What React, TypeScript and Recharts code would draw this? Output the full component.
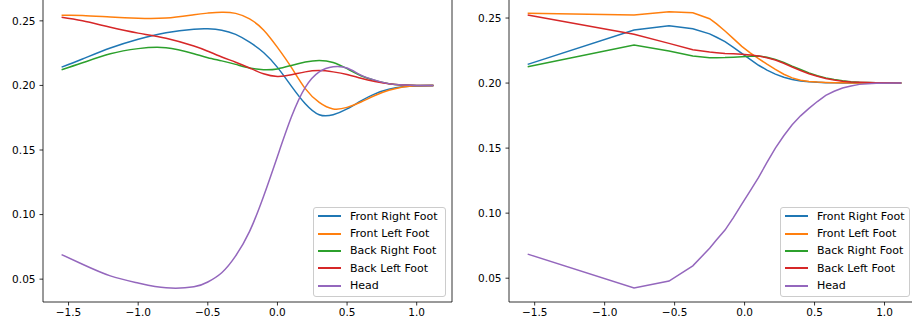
import { LineChart, Line, XAxis, YAxis, ReferenceLine, Legend } from 'recharts';

const seriesNames = ['Front Right Foot', 'Front Left Foot', 'Back Right Foot', 'Back Left Foot', 'Head'];
const COLORS = ['#1f77b4', '#ff7f0e', '#2ca02c', '#d62728', '#9467bd'];

// left panel: smooth curves
const xLeft = [-1.55, -1.4, -1.2, -1.0, -0.8, -0.6, -0.5, -0.4, -0.3, -0.2, -0.1, 0, 0.1, 0.2, 0.3, 0.4, 0.5, 0.6, 0.7, 0.8, 0.9, 1.0, 1.12];
const frontRightL = [0.2142, 0.2205, 0.2290, 0.2358, 0.2408, 0.2435, 0.2438, 0.2428, 0.2395, 0.2335, 0.2255, 0.2140, 0.1995, 0.1858, 0.1773, 0.1773, 0.1818, 0.1880, 0.1935, 0.1970, 0.1990, 0.1998, 0.2000];
const frontLeftL = [0.2543, 0.2542, 0.2530, 0.2520, 0.2522, 0.2548, 0.2560, 0.2567, 0.2558, 0.2515, 0.2430, 0.2295, 0.2140, 0.1975, 0.1868, 0.1818, 0.1830, 0.1872, 0.1922, 0.1962, 0.1988, 0.1998, 0.2000];
const backRightL = [0.2122, 0.2175, 0.2245, 0.2285, 0.2292, 0.2245, 0.2215, 0.2190, 0.2163, 0.2135, 0.2122, 0.2128, 0.2155, 0.2182, 0.2194, 0.2178, 0.2130, 0.2075, 0.2039, 0.2013, 0.2004, 0.2000, 0.2000];
const backLeftL = [0.2528, 0.2500, 0.2450, 0.2405, 0.2365, 0.2305, 0.2265, 0.2220, 0.2180, 0.2135, 0.2090, 0.2070, 0.2082, 0.2105, 0.2115, 0.2105, 0.2085, 0.2055, 0.2030, 0.2013, 0.2004, 0.2000, 0.2000];
const headL = [0.0690, 0.0615, 0.0525, 0.0470, 0.0433, 0.0441, 0.0478, 0.0550, 0.0680, 0.0870, 0.1140, 0.1450, 0.1755, 0.1985, 0.2105, 0.2145, 0.2135, 0.2080, 0.2041, 0.2014, 0.2004, 0.2000, 0.2000];

// right panel: piecewise linear
const xRight = [-1.55, -0.79, -0.54, -0.37, -0.25, -0.20, -0.14, -0.08, -0.02, 0.04, 0.10, 0.16, 0.22, 0.28, 0.34, 0.40, 0.46, 0.52, 0.58, 0.64, 0.70, 0.76, 0.82, 0.94, 1.12];
const frontRightR = [0.2144, 0.2408, 0.2441, 0.2418, 0.2378, 0.2352, 0.2318, 0.2275, 0.2228, 0.2182, 0.2137, 0.2100, 0.2069, 0.2045, 0.2027, 0.2016, 0.2010, 0.2006, 0.2003, 0.2002, 0.2001, 0.2000, 0.2000, 0.2000, 0.2000];
const frontLeftR = [0.2536, 0.2523, 0.2548, 0.2540, 0.2495, 0.2455, 0.2400, 0.2342, 0.2282, 0.2232, 0.2188, 0.2145, 0.2105, 0.2068, 0.2040, 0.2022, 0.2013, 0.2008, 0.2005, 0.2003, 0.2002, 0.2001, 0.2001, 0.2000, 0.2000];
const backRightR = [0.2126, 0.2292, 0.2246, 0.2208, 0.2195, 0.2195, 0.2196, 0.2199, 0.2202, 0.2206, 0.2208, 0.2198, 0.2182, 0.2158, 0.2130, 0.2104, 0.2078, 0.2057, 0.2040, 0.2027, 0.2017, 0.2011, 0.2007, 0.2002, 0.2000];
const backLeftR = [0.2523, 0.2375, 0.2305, 0.2256, 0.2238, 0.2233, 0.2228, 0.2225, 0.2221, 0.2216, 0.2208, 0.2195, 0.2177, 0.2152, 0.2124, 0.2097, 0.2072, 0.2052, 0.2035, 0.2023, 0.2014, 0.2009, 0.2006, 0.2002, 0.2000];
const headR = [0.0685, 0.0425, 0.0478, 0.0595, 0.0730, 0.0795, 0.0870, 0.0965, 0.1070, 0.1172, 0.1275, 0.1390, 0.1500, 0.1595, 0.1680, 0.1748, 0.1805, 0.1858, 0.1905, 0.1937, 0.1962, 0.1978, 0.1990, 0.1998, 0.2000];

const xTicks = [-1.5, -1, -0.5, 0, 0.5, 1];
const yTicks = [0.05, 0.1, 0.15, 0.2, 0.25];

const FONT = 'DejaVu Sans';

function toRows(xs: number[], cols: number[][]) {
  return xs.map((x, i) => {
    const row: Record<string, number> = { x };
    cols.forEach((c, j) => (row['s' + j] = c[i]));
    return row;
  });
}

const leftData = toRows(xLeft, [frontRightL, frontLeftL, backRightL, backLeftL, headL]);
const rightData = toRows(xRight, [frontRightR, frontLeftR, backRightR, backLeftR, headR]);

const fmtX = (v: number) => (v < 0 ? '\u2212' : '') + Math.abs(v).toFixed(1);
const fmtY = (v: number) => v.toFixed(2);

// keep the original series order (recharts sorts the payload by name)
function LegendBox() {
  return (
    <div
      style={{
        border: '1px solid #cccccc',
        borderRadius: 3,
        background: 'rgba(255,255,255,0.8)',
        padding: '0 0 1.5px 0',
        fontFamily: FONT,
        fontSize: 11,
        color: '#000',
        boxSizing: 'border-box',
      }}
    >
      {seriesNames.map((name, i) => (
        <div key={name} style={{ display: 'flex', alignItems: 'center', height: 17.3, whiteSpace: 'nowrap' }}>
          <span
            style={{
              display: 'inline-block',
              width: 23,
              height: 2,
              background: COLORS[i],
              marginLeft: 4,
              marginRight: 9,
            }}
          />
          <span>{name}</span>
        </div>
      ))}
    </div>
  );
}

function Panel({ data, yDomain, curve, width, marginRight, legendLeft, legendWidth }: any) {
  const xDomain = [-1.6835, 1.2535];
  return (
    <LineChart width={width} height={344} data={data} margin={{ top: 10, right: marginRight, bottom: 0, left: 0 }}>
      <XAxis
        type="number"
        dataKey="x"
        domain={xDomain}
        allowDataOverflow
        ticks={xTicks}
        interval={0}
        tickFormatter={fmtX}
        height={30}
        tickSize={3.5}
        tickMargin={3.5}
        axisLine={{ stroke: '#000', strokeWidth: 0.8 }}
        tickLine={{ stroke: '#000', strokeWidth: 0.8 }}
        tick={{ fill: '#000', fontSize: 10.5, fontFamily: FONT }}
      />
      <YAxis
        type="number"
        domain={yDomain}
        allowDataOverflow
        ticks={yTicks}
        interval={0}
        tickFormatter={fmtY}
        width={43}
        tickSize={3.5}
        tickMargin={4}
        axisLine={{ stroke: '#000', strokeWidth: 0.8 }}
        tickLine={{ stroke: '#000', strokeWidth: 0.8 }}
        tick={{ fill: '#000', fontSize: 10.5, fontFamily: FONT }}
      />
      <ReferenceLine x={xDomain[1]} stroke="#000" strokeWidth={0.8} />
      {seriesNames.map((name, i) => (
        <Line
          key={name}
          name={name}
          dataKey={'s' + i}
          type={curve}
          stroke={COLORS[i]}
          strokeWidth={1.5}
          dot={false}
          isAnimationActive={false}
        />
      ))}
      <Legend
        layout="vertical"
        align="center"
        verticalAlign="middle"
        content={<LegendBox />}
        wrapperStyle={{ left: legendLeft, top: 218.7, width: legendWidth }}
      />
    </LineChart>
  );
}

export default function App() {
  return (
    <div style={{ position: 'relative', width: 912, height: 331, overflow: 'hidden', background: '#fff' }}>
      <style>{'body{margin:0}'}</style>
      <div style={{ position: 'absolute', left: 0, top: -12 }}>
        <Panel
          data={leftData}
          yDomain={[0.0323, 0.2677]}
          curve="natural"
          width={460}
          marginRight={8}
          legendLeft={313}
          legendWidth={133}
        />
      </div>
      <div style={{ position: 'absolute', left: 466, top: -12 }}>
        <Panel
          data={rightData}
          yDomain={[0.0317, 0.2654]}
          curve="linear"
          width={454}
          marginRight={0}
          legendLeft={314}
          legendWidth={130}
        />
      </div>
    </div>
  );
}
